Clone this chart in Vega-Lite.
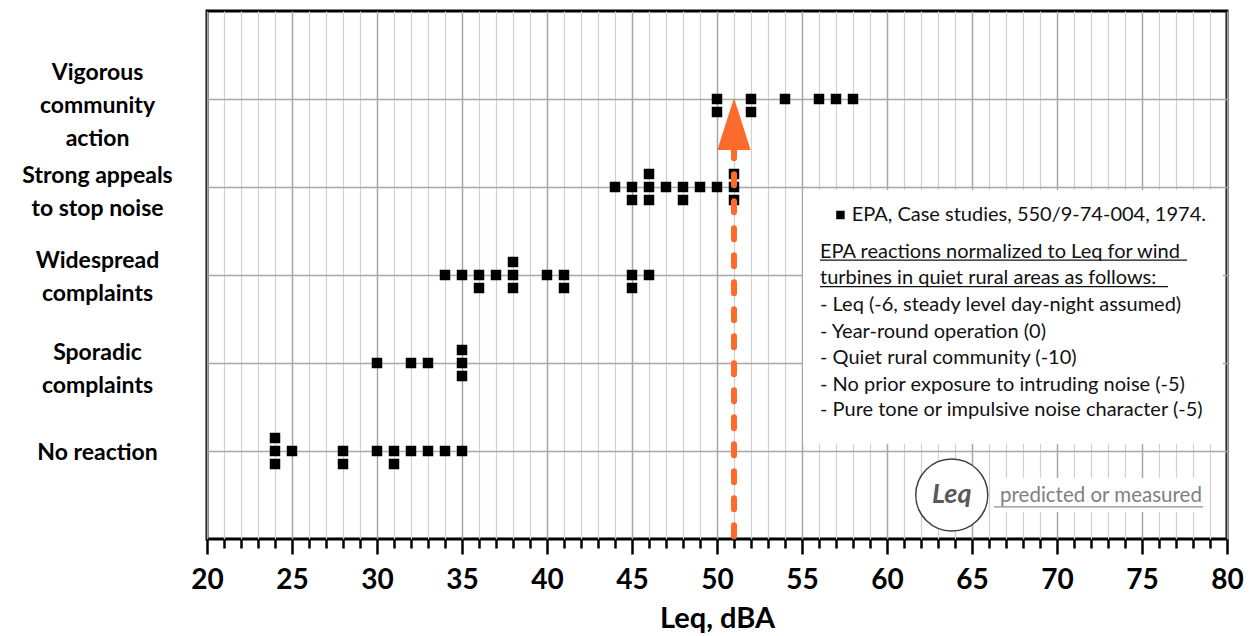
{
  "$schema": "https://vega.github.io/schema/vega-lite/v6.json",
  "width": 1020,
  "height": 528,
  "autosize": {"type": "none"},
  "padding": {"left": 207, "top": 11, "right": 25, "bottom": 97},
  "background": "white",
  "config": {"view": {"stroke": "black", "strokeWidth": 3}, "font": "Lato"},
  "datasets": {
    "epa": [
      {"reaction": "No reaction", "level": 1, "leq": 24, "stack": 1},
      {"reaction": "No reaction", "level": 1, "leq": 24, "stack": 0},
      {"reaction": "No reaction", "level": 1, "leq": 24, "stack": -1},
      {"reaction": "No reaction", "level": 1, "leq": 25, "stack": 0},
      {"reaction": "No reaction", "level": 1, "leq": 28, "stack": 0},
      {"reaction": "No reaction", "level": 1, "leq": 28, "stack": -1},
      {"reaction": "No reaction", "level": 1, "leq": 30, "stack": 0},
      {"reaction": "No reaction", "level": 1, "leq": 31, "stack": 0},
      {"reaction": "No reaction", "level": 1, "leq": 31, "stack": -1},
      {"reaction": "No reaction", "level": 1, "leq": 32, "stack": 0},
      {"reaction": "No reaction", "level": 1, "leq": 33, "stack": 0},
      {"reaction": "No reaction", "level": 1, "leq": 34, "stack": 0},
      {"reaction": "No reaction", "level": 1, "leq": 35, "stack": 0},
      {"reaction": "Sporadic complaints", "level": 2, "leq": 30, "stack": 0},
      {"reaction": "Sporadic complaints", "level": 2, "leq": 32, "stack": 0},
      {"reaction": "Sporadic complaints", "level": 2, "leq": 33, "stack": 0},
      {"reaction": "Sporadic complaints", "level": 2, "leq": 35, "stack": 1},
      {"reaction": "Sporadic complaints", "level": 2, "leq": 35, "stack": 0},
      {"reaction": "Sporadic complaints", "level": 2, "leq": 35, "stack": -1},
      {"reaction": "Widespread complaints", "level": 3, "leq": 34, "stack": 0},
      {"reaction": "Widespread complaints", "level": 3, "leq": 35, "stack": 0},
      {"reaction": "Widespread complaints", "level": 3, "leq": 36, "stack": 0},
      {"reaction": "Widespread complaints", "level": 3, "leq": 36, "stack": -1},
      {"reaction": "Widespread complaints", "level": 3, "leq": 37, "stack": 0},
      {"reaction": "Widespread complaints", "level": 3, "leq": 38, "stack": 1},
      {"reaction": "Widespread complaints", "level": 3, "leq": 38, "stack": 0},
      {"reaction": "Widespread complaints", "level": 3, "leq": 38, "stack": -1},
      {"reaction": "Widespread complaints", "level": 3, "leq": 40, "stack": 0},
      {"reaction": "Widespread complaints", "level": 3, "leq": 41, "stack": 0},
      {"reaction": "Widespread complaints", "level": 3, "leq": 41, "stack": -1},
      {"reaction": "Widespread complaints", "level": 3, "leq": 45, "stack": 0},
      {"reaction": "Widespread complaints", "level": 3, "leq": 45, "stack": -1},
      {"reaction": "Widespread complaints", "level": 3, "leq": 46, "stack": 0},
      {"reaction": "Strong appeals to stop noise", "level": 4, "leq": 44, "stack": 0},
      {"reaction": "Strong appeals to stop noise", "level": 4, "leq": 45, "stack": 0},
      {"reaction": "Strong appeals to stop noise", "level": 4, "leq": 45, "stack": -1},
      {"reaction": "Strong appeals to stop noise", "level": 4, "leq": 46, "stack": 1},
      {"reaction": "Strong appeals to stop noise", "level": 4, "leq": 46, "stack": 0},
      {"reaction": "Strong appeals to stop noise", "level": 4, "leq": 46, "stack": -1},
      {"reaction": "Strong appeals to stop noise", "level": 4, "leq": 47, "stack": 0},
      {"reaction": "Strong appeals to stop noise", "level": 4, "leq": 48, "stack": 0},
      {"reaction": "Strong appeals to stop noise", "level": 4, "leq": 48, "stack": -1},
      {"reaction": "Strong appeals to stop noise", "level": 4, "leq": 49, "stack": 0},
      {"reaction": "Strong appeals to stop noise", "level": 4, "leq": 50, "stack": 0},
      {"reaction": "Strong appeals to stop noise", "level": 4, "leq": 51, "stack": 1},
      {"reaction": "Strong appeals to stop noise", "level": 4, "leq": 51, "stack": 0},
      {"reaction": "Strong appeals to stop noise", "level": 4, "leq": 51, "stack": -1},
      {"reaction": "Vigorous community action", "level": 5, "leq": 50, "stack": 0},
      {"reaction": "Vigorous community action", "level": 5, "leq": 50, "stack": -1},
      {"reaction": "Vigorous community action", "level": 5, "leq": 52, "stack": 0},
      {"reaction": "Vigorous community action", "level": 5, "leq": 52, "stack": -1},
      {"reaction": "Vigorous community action", "level": 5, "leq": 54, "stack": 0},
      {"reaction": "Vigorous community action", "level": 5, "leq": 56, "stack": 0},
      {"reaction": "Vigorous community action", "level": 5, "leq": 57, "stack": 0},
      {"reaction": "Vigorous community action", "level": 5, "leq": 58, "stack": 0}
    ],
    "boxes": [
      {"name": "legend", "leq": 55.06, "leq2": 79.76, "level": 1.08, "level2": 3.966},
      {"name": "predicted", "leq": 66.24, "leq2": 78.82, "level": 0.307, "level2": 0.693}
    ],
    "notes": [
      {"leq": 57.92, "level": 3.682, "text": "EPA, Case studies, 550/9-74-004, 1974."},
      {"leq": 56.06, "level": 3.265, "text": "EPA reactions normalized to Leq for wind"},
      {"leq": 56.06, "level": 2.966, "text": "turbines in quiet rural areas as follows:"},
      {"leq": 56.06, "level": 2.659, "text": "- Leq (-6, steady level day-night assumed)"},
      {"leq": 56.06, "level": 2.356, "text": "- Year-round operation (0)"},
      {"leq": 56.06, "level": 2.057, "text": "- Quiet rural community (-10)"},
      {"leq": 56.06, "level": 1.75, "text": "- No prior exposure to intruding noise (-5)"},
      {"leq": 56.06, "level": 1.466, "text": "- Pure tone or impulsive noise character (-5)"}
    ],
    "underlines": [
      {"leq": 56.06, "leq2": 77.65, "level": 3.17, "tone": "black"},
      {"leq": 56.06, "leq2": 76.53, "level": 2.867, "tone": "black"},
      {"leq": 66.29, "leq2": 78.59, "level": 0.364, "tone": "gray"}
    ],
    "marker": [{"leq": 57.26, "level": 3.682}],
    "arrowShaft": [{"leq": 51, "level": 0.03, "level2": 4.43}],
    "arrowHead": [{"leq": 51, "level": 4.716}],
    "badge": [{"leq": 63.81, "level": 0.5, "text": "Leq"}],
    "caption": [{"leq": 66.65, "level": 0.489, "text": "predicted or measured"}]
  },
  "encoding": {
    "x": {
      "field": "leq", "type": "quantitative",
      "scale": {"domain": [20, 80], "nice": false, "zero": false},
      "axis": {
        "values": [20,21,22,23,24,25,26,27,28,29,30,31,32,33,34,35,36,37,38,39,40,41,42,43,44,45,46,47,48,49,50,51,52,53,54,55,56,57,58,59,60,61,62,63,64,65,66,67,68,69,70,71,72,73,74,75,76,77,78,79,80],
        "title": "Leq, dBA",
        "titleFont": "Lato", "titleFontSize": 29, "titleFontWeight": "bold", "titleColor": "black", "titlePadding": 10,
        "labelExpr": "datum.value % 5 === 0 ? datum.label : ''",
        "labelFont": "Lato", "labelFontSize": 28, "labelFontWeight": "bold", "labelColor": "black",
        "labelFlush": false, "labelOverlap": false, "labelPadding": 12,
        "domain": false,
        "tickColor": "black", "tickWidth": 2.5,
        "tickSize": {"condition": {"test": "datum.value % 5 === 0", "value": 15}, "value": 9},
        "grid": true,
        "gridColor": {"condition": {"test": "datum.value % 5 === 0", "value": "#a6a6a6"}, "value": "#d0d0d0"},
        "gridWidth": {"condition": {"test": "datum.value % 5 === 0", "value": 1.5}, "value": 1.2}
      }
    },
    "y": {
      "field": "level", "type": "quantitative",
      "scale": {"domain": [0, 6], "nice": false, "zero": false},
      "axis": {
        "values": [1, 2, 3, 4, 5],
        "title": null,
        "domain": false, "ticks": false, "tickSize": 0,
        "labelPadding": 110, "labelAlign": "center", "labelBaseline": "middle",
        "labelOffset": {"condition": [
          {"test": "datum.value == 5", "value": -27},
          {"test": "datum.value == 4", "value": -12},
          {"test": "datum.value == 3", "value": -15},
          {"test": "datum.value == 2", "value": -11}
        ], "value": 1},
        "labelFont": "Lato", "labelFontSize": 23, "labelFontWeight": "bold", "labelColor": "black",
        "labelLineHeight": 33, "labelLimit": 400, "labelOverlap": false,
        "labelExpr": "datum.value == 5 ? ['Vigorous','community','action'] : datum.value == 4 ? ['Strong appeals','to stop noise'] : datum.value == 3 ? ['Widespread','complaints'] : datum.value == 2 ? ['Sporadic','complaints'] : 'No reaction'",
        "grid": true, "gridColor": "#a6a6a6", "gridWidth": 1.5
      }
    }
  },
  "layer": [
    {
      "data": {"name": "boxes"},
      "mark": {"type": "rect", "fill": "white", "stroke": null},
      "encoding": {"x2": {"field": "leq2"}, "y2": {"field": "level2"}}
    },
    {
      "data": {"name": "badge"},
      "mark": {"type": "point", "shape": "circle", "filled": false, "fill": "white", "fillOpacity": 1, "stroke": "#404040", "strokeWidth": 1.5, "size": 5184, "opacity": 1}
    },
    {
      "data": {"name": "epa"},
      "transform": [{"filter": "datum.stack == 1"}],
      "mark": {"type": "point", "shape": "square", "filled": true, "color": "black", "size": 110, "opacity": 1, "yOffset": -13}
    },
    {
      "data": {"name": "epa"},
      "transform": [{"filter": "datum.stack == 0"}],
      "mark": {"type": "point", "shape": "square", "filled": true, "color": "black", "size": 110, "opacity": 1}
    },
    {
      "data": {"name": "epa"},
      "transform": [{"filter": "datum.stack == -1"}],
      "mark": {"type": "point", "shape": "square", "filled": true, "color": "black", "size": 110, "opacity": 1, "yOffset": 13}
    },
    {
      "data": {"name": "arrowShaft"},
      "mark": {"type": "rule", "color": "#fd6b2c", "strokeWidth": 6, "strokeDash": [11, 16], "strokeCap": "round"},
      "encoding": {"y2": {"field": "level2"}}
    },
    {
      "data": {"name": "arrowHead"},
      "mark": {"type": "point", "shape": "M0,-1.56L1,1.56L-1,1.56Z", "filled": true, "color": "#fd6b2c", "size": 1111, "opacity": 1}
    },
    {
      "data": {"name": "marker"},
      "mark": {"type": "point", "shape": "square", "filled": true, "color": "black", "size": 72, "opacity": 1}
    },
    {
      "data": {"name": "notes"},
      "mark": {"type": "text", "align": "left", "baseline": "middle", "font": "Lato", "fontSize": 20, "color": "#111111"},
      "encoding": {"text": {"field": "text"}}
    },
    {
      "data": {"name": "underlines"},
      "mark": {"type": "rule", "strokeWidth": 1.3},
      "encoding": {
        "x2": {"field": "leq2"},
        "color": {"field": "tone", "type": "nominal", "scale": {"domain": ["black", "gray"], "range": ["#111111", "#8c8c8c"]}, "legend": null}
      }
    },
    {
      "data": {"name": "badge"},
      "mark": {"type": "text", "align": "center", "baseline": "middle", "font": "Lato", "fontSize": 27, "fontWeight": "bold", "fontStyle": "italic", "color": "#595959"},
      "encoding": {"text": {"field": "text"}}
    },
    {
      "data": {"name": "caption"},
      "mark": {"type": "text", "align": "left", "baseline": "middle", "font": "Lato", "fontSize": 20.5, "color": "#7f7f7f"},
      "encoding": {"text": {"field": "text"}}
    }
  ]
}
